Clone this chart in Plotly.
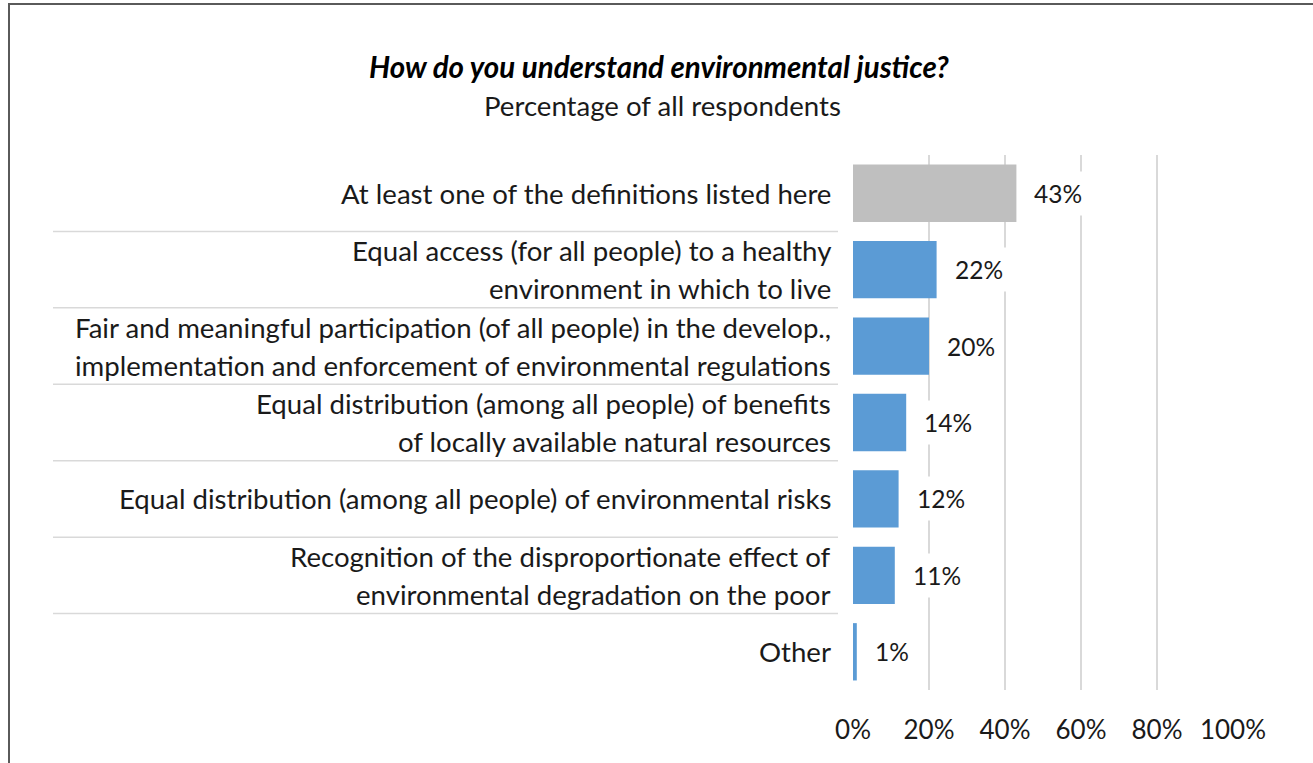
import plotly.graph_objects as go

# Survey answers, listed top to bottom
categories = [
    "At least one of the definitions listed here",
    "Equal access (for all people) to a healthy<br>environment in which to live",
    "Fair and meaningful participation (of all people) in the develop.,<br>implementation and enforcement of environmental regulations",
    "Equal distribution (among all people) of benefits<br>of locally available natural resources",
    "Equal distribution (among all people) of environmental risks",
    "Recognition of the disproportionate effect of<br>environmental degradation on the poor",
    "Other",
]
shares = [43, 22, 20, 14, 12, 11, 1]
bar_colors = ["#BFBFBF", "#5B9BD5", "#5B9BD5", "#5B9BD5", "#5B9BD5", "#5B9BD5", "#5B9BD5"]
tick_values = [0, 20, 40, 60, 80, 100]
tick_labels = ["0%", "20%", "40%", "60%", "80%", "100%"]

title_text = "How do you understand environmental justice?"
subtitle_text = "Percentage of all respondents"

W, H = 1313, 763
ML, MR, MT, MB = 853, 80, 155, 73
FONT = "Lato"
FS_LABEL = 27.6
FS_TITLE = 29.5
FS_VALUE = 24.5
FS_TICK = 26
TXT = "#1a1a1a"

plot_w = W - ML - MR
plot_h = H - MT - MB


def px_to_paper_x(px):
    return (px - ML) / plot_w


def px_to_paper_y(py):
    return (H - MB - py) / plot_h


fig = go.Figure(
    go.Bar(
        x=shares,
        y=list(range(len(categories))),
        orientation="h",
        marker=dict(color=bar_colors, line=dict(width=0)),
        hoverinfo="skip",
    )
)

annotations = []

# category labels, right aligned against the plot, one annotation per line
line_gap = 38
for i, label in enumerate(categories):
    lines = label.split("<br>")
    n = len(lines)
    for j, line in enumerate(lines):
        shift = ((n - 1) / 2 - j) * line_gap
        annotations.append(dict(
            x=0, xref="paper", y=i, yref="y",
            text=line, showarrow=False,
            xanchor="right", yanchor="middle",
            xshift=-20, yshift=shift,
            font=dict(family=FONT, size=FS_LABEL, color=TXT),
        ))

# value labels on a white box so the grid stops behind them
for i, v in enumerate(shares):
    annotations.append(dict(
        x=v, xref="x", y=i, yref="y",
        text=f"{v}%", showarrow=False,
        xanchor="left", yanchor="middle",
        xshift=10, yshift=0,
        bgcolor="white", borderpad=7,
        font=dict(family=FONT, size=FS_VALUE, color=TXT),
    ))

annotations.append(dict(
    x=px_to_paper_x(659), xref="paper", y=px_to_paper_y(66), yref="paper",
    text=f"<b><i>{title_text}</i></b>", showarrow=False,
    xanchor="center", yanchor="middle",
    font=dict(family=FONT, size=FS_TITLE, color="#000000"),
))
annotations.append(dict(
    x=px_to_paper_x(662), xref="paper", y=px_to_paper_y(105), yref="paper",
    text=subtitle_text, showarrow=False,
    xanchor="center", yanchor="middle",
    font=dict(family=FONT, size=FS_LABEL, color=TXT),
))

shapes = []
# thin separators between the category rows, across the label column
for i in range(len(categories) - 1):
    shapes.append(dict(
        type="line", xref="paper", yref="y",
        x0=px_to_paper_x(53), x1=px_to_paper_x(838),
        y0=i + 0.5, y1=i + 0.5,
        line=dict(color="#D9D9D9", width=1.5),
        layer="below",
    ))

# outer frame of the chart
shapes.append(dict(
    type="rect", xref="paper", yref="paper",
    x0=px_to_paper_x(9), x1=px_to_paper_x(W + 40),
    y0=px_to_paper_y(H + 40), y1=px_to_paper_y(4),
    line=dict(color="#5A5A5A", width=2),
    fillcolor="rgba(0,0,0,0)",
))

fig.update_layout(
    width=W, height=H,
    margin=dict(l=ML, r=MR, t=MT, b=MB, pad=0),
    paper_bgcolor="white", plot_bgcolor="white",
    bargap=0.25,
    showlegend=False,
    annotations=annotations,
    shapes=shapes,
    xaxis=dict(
        range=[0, 100],
        tickvals=tick_values, ticktext=tick_labels,
        showgrid=True, gridcolor="#D9D9D9", gridwidth=2,
        zeroline=False, showline=False, ticks="",
        ticklabelstandoff=22,
        tickfont=dict(family=FONT, size=FS_TICK, color=TXT),
        fixedrange=True,
    ),
    yaxis=dict(
        range=[len(categories) - 0.5, -0.5],
        showticklabels=False, showgrid=False, zeroline=False,
        showline=False, ticks="",
        fixedrange=True,
    ),
)

fig.write_html("out.html")
